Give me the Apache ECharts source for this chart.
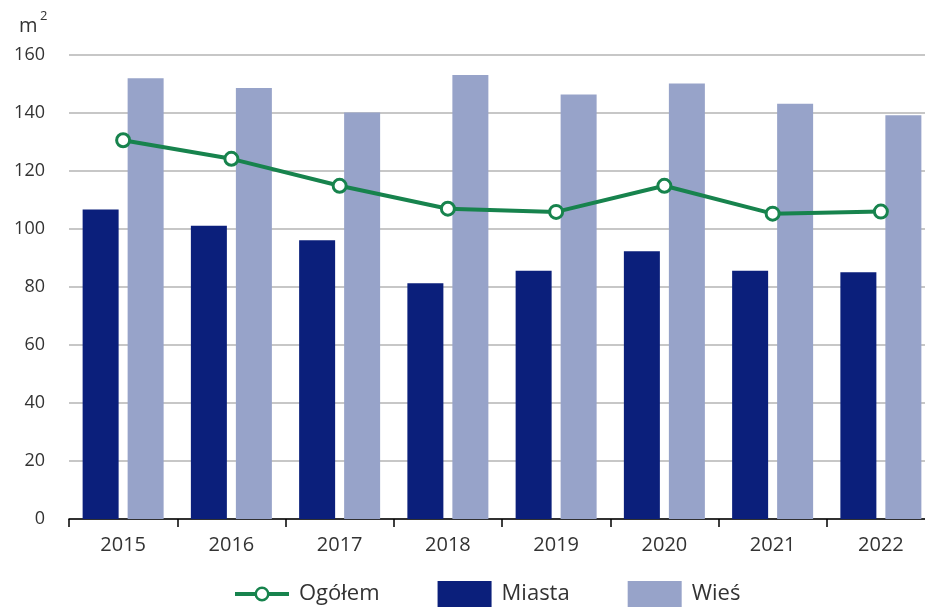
<!DOCTYPE html>
<html>
<head>
<meta charset="utf-8">
<script src="https://cdn.jsdelivr.net/npm/echarts@6/dist/echarts.min.js"></script>
<style>
  html, body { margin: 0; padding: 0; background: #fff; }
  #chart { width: 925px; height: 607px; }
</style>
</head>
<body>
<div id="chart"></div>
<script>
const categories = ['2015', '2016', '2017', '2018', '2019', '2020', '2021', '2022'];
const miasta = [106.7, 101.1, 96.1, 81.3, 85.6, 92.3, 85.6, 85.1];
const wies = [152.0, 148.6, 140.2, 153.1, 146.4, 150.2, 143.2, 139.2];
const ogolem = [130.6, 124.2, 114.9, 107.0, 105.9, 114.9, 105.3, 106.0];
const yTicks = { min: 0, max: 160, interval: 20 };

const FONT = '"Open Sans", "Noto Sans", sans-serif';
const GREEN = '#17834d';
const lineIcon = 'path://M0,11 L20.5,11 L20.5,15 L0,15 Z M33.5,11 L54,11 L54,15 L33.5,15 Z ' +
  'M19.5,13 A7.5,7.5 0 1,1 34.5,13 A7.5,7.5 0 1,1 19.5,13 Z ' +
  'M22,13 A5,5 0 1,0 32,13 A5,5 0 1,0 22,13 Z';

const chart = echarts.init(document.getElementById('chart'), null, { renderer: 'canvas' });
chart.setOption({
  animation: false,
  textStyle: { fontFamily: FONT },
  grid: { left: 69, top: 55, width: 866, height: 464, containLabel: false, outerBoundsMode: 'none' },
  graphic: [
    { type: 'text', left: 19, top: 16, style: { text: 'm', font: '20px ' + FONT, fill: '#333' } },
    { type: 'text', left: 40, top: 10, style: { text: '2', font: '13px ' + FONT, fill: '#333' } }
  ],
  legend: {
    top: 581,
    left: 235,
    padding: 0,
    itemWidth: 54,
    itemHeight: 26,
    itemGap: 58,
    symbolKeepAspect: true,
    textStyle: { fontSize: 22, color: '#333', fontFamily: FONT, padding: [0, 0, 0, 5] },
    data: [
      { name: 'Ogółem', icon: lineIcon, itemStyle: { color: GREEN, borderWidth: 0 } },
      { name: 'Miasta', icon: 'rect' },
      { name: 'Wieś', icon: 'rect' }
    ]
  },
  xAxis: {
    type: 'category',
    data: categories,
    axisLine: { lineStyle: { color: '#000', width: 1.5 } },
    axisTick: { show: true, length: 8, alignWithLabel: false, lineStyle: { color: '#000', width: 1.5 } },
    axisLabel: { color: '#333', fontSize: 20, margin: 16, fontFamily: FONT }
  },
  yAxis: {
    type: 'value',
    min: yTicks.min,
    max: yTicks.max,
    interval: yTicks.interval,
    axisLine: { show: false },
    axisTick: { show: false },
    axisLabel: { color: '#333', fontSize: 18, margin: 24, fontFamily: FONT },
    splitLine: { lineStyle: { color: '#b4b4b4', width: 1.5 } }
  },
  series: [
    {
      name: 'Miasta',
      type: 'bar',
      data: miasta,
      barWidth: 36,
      barGap: '25%',
      itemStyle: { color: '#0b1f7b' }
    },
    {
      name: 'Wieś',
      type: 'bar',
      data: wies,
      barWidth: 36,
      itemStyle: { color: '#97a3c9' }
    },
    {
      name: 'Ogółem',
      type: 'line',
      data: ogolem,
      symbol: 'circle',
      symbolSize: 13,
      lineStyle: { color: GREEN, width: 4 },
      itemStyle: { color: '#fff', borderColor: GREEN, borderWidth: 3 },
      z: 10
    }
  ]
});
</script>
</body>
</html>
